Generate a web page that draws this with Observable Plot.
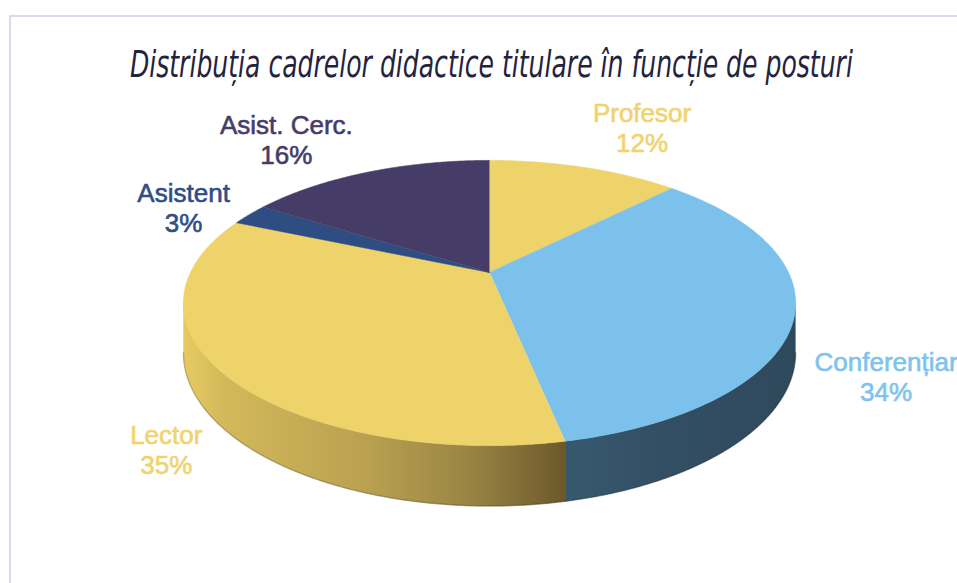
<!DOCTYPE html>
<html><head><meta charset="utf-8">
<script src="https://cdn.jsdelivr.net/npm/d3@7"></script>
<script src="https://cdn.jsdelivr.net/npm/@observablehq/plot@0.6"></script>
<style>
html,body{margin:0;padding:0;background:#fff;}
#wrap{position:relative;width:957px;height:583px;overflow:hidden;background:#fff;}
#frame{position:absolute;left:9px;top:15px;right:-5px;bottom:-5px;border-left:2px solid #DCD9EF;border-top:2px solid #DCD9EF;z-index:2;pointer-events:none;}
#title{position:absolute;left:-509px;top:45px;width:2000px;text-align:center;z-index:3;white-space:nowrap;}
#title span{display:inline-block;font-family:"Liberation Sans Narrow","DejaVu Sans Condensed",sans-serif;font-style:italic;font-size:38px;line-height:38px;color:#25223E;transform-origin:50% 50%;}
#chart{position:absolute;left:0;top:0;z-index:1;}
</style></head><body>
<div id="wrap"><div id="chart"></div><div id="frame"></div><div id="title"><span id="tt">Distribuția cadrelor didactice titulare în funcție de posturi</span></div></div>
<script>
// ---- data (shares read from the slice boundaries; labels as printed) ----
const categories = ["Profesor", "Conferențiar", "Lector", "Asistent", "Asist. Cerc."];
const shares = [12.4, 34.4, 34.7, 2.5, 16.0];
const percentLabels = ["12%", "34%", "35%", "3%", "16%"];
// ---- styles ----
const topColors = ["#EED26A", "#7CC1EC", "#EED26A", "#2E4D82", "#463C68"];
const wallFills = ["#9E8A45", "url(#wallConf)", "url(#wallLector)", "#1F3458", "#2F2848"];
const rimColors = ["#FFF3A0", "#3D6E92", "#FFF3A0", "#4A6CA8", "#6A5C92"];
const labelColors = ["#F0D36E", "#7EC3ED", "#F0D36E", "#2E4E84", "#463C6A"];

// ---- 3D projection (perspective tilted disk) ----
const P = 0.214, A = 0.455, D = 0.159, S = 299, CX = 489, CY = 272;
const rad = d => d * Math.PI / 180;
function proj(theta, r, h) {
  const X = r * Math.sin(theta), Z = -r * Math.cos(theta);
  const w = 1 - P * Z;
  return {x: X / w, y: (A * Z + D * h) / w};
}
function arc(t0, t1, r, h) {
  const n = Math.max(2, Math.ceil(Math.abs(t1 - t0) / rad(0.5)));
  return d3.range(n + 1).map(i => proj(t0 + (t1 - t0) * i / n, r, h));
}

const total = d3.sum(shares);
let acc = 0;
const slices = categories.map((c, i) => {
  const s = acc / total * 2 * Math.PI; acc += shares[i];
  const e = acc / total * 2 * Math.PI;
  return {i, name: c, start: s, end: e};
});

const visA = Math.acos(-P), visB = 2 * Math.PI - visA;
const marks = [];

// drop shadow
marks.push(Plot.line(arc(0, 2 * Math.PI, 1.015, 1.25), {x: "x", y: "y", fill: "#000", fillOpacity: 0.42, stroke: "none", ariaLabel: "shadow"}));

// walls
for (const sl of slices) {
  const lo = Math.max(sl.start, visA), hi = Math.min(sl.end, visB);
  if (hi <= lo) continue;
  const pts = arc(lo, hi, 1, 0).concat(arc(hi, lo, 1, 1));
  marks.push(Plot.line(pts, {x: "x", y: "y", fill: wallFills[sl.i], stroke: wallFills[sl.i], strokeWidth: 0.5}));
  marks.push(Plot.line(arc(lo, hi, 1, 1), {x: "x", y: "y", stroke: "#000", strokeOpacity: 0.2, strokeWidth: 1.5}));
}

// top faces
for (const sl of slices) {
  const pts = [proj(0, 0, 0)].concat(arc(sl.start, sl.end, 1, 0));
  marks.push(Plot.line(pts, {x: "x", y: "y", fill: topColors[sl.i], stroke: topColors[sl.i], strokeWidth: 0.6}));
}

// rim bevel
for (const sl of slices) {
  const lo = Math.max(sl.start, visA - rad(10)), hi = Math.min(sl.end, rad(300));
  if (hi <= lo) continue;
  const dark = sl.i === 1;
  marks.push(Plot.line(arc(lo, hi, dark ? 0.975 : 0.982, 0), {x: "x", y: "y", stroke: rimColors[sl.i], strokeWidth: dark ? 6 : 4, strokeOpacity: dark ? 0.8 : 1, ariaLabel: dark ? "rimdark" : "rimlight"}));
}

// labels
const ctx = document.createElement("canvas").getContext("2d");
ctx.font = "26px 'Liberation Sans'";
const labels = slices.map(sl => {
  const mid = (sl.start + sl.end) / 2;
  const Zm = -Math.cos(mid);
  const t = proj(mid, 1, 0);
  const a = Zm > 0 ? proj(mid, 1, 1) : t;
  const tx = t.x * S, ty = t.y * S, ax = a.x * S, ay = a.y * S;
  const len = Math.hypot(tx, ty), ux = tx / len, uy = ty / len;
  const k = 1 / Math.max(Math.abs(ux), Math.abs(uy));
  const hw = Math.max(ctx.measureText(sl.name).width, ctx.measureText(percentLabels[sl.i]).width) / 2;
  const hh = 30, gap = 20;
  const lx = ax + gap * ux + hw * ux * k, ly = ay + gap * uy + hh * uy * k;
  return {x: lx / S, y: ly / S, text: sl.name + "\n" + percentLabels[sl.i], color: labelColors[sl.i]};
});
marks.push(Plot.text(labels, {x: "x", y: "y", dy: 5, text: "text", fill: "color", stroke: "color", strokeWidth: 0.6, fontSize: 26, fontFamily: "'Liberation Sans', Arial, sans-serif", lineHeight: 1.15, textAnchor: "middle", lineAnchor: "middle"}));

const svg = Plot.plot({
  width: 957, height: 583, margin: 0,
  style: {background: "transparent", overflow: "visible"},
  x: {domain: [-1, 1], range: [CX - S, CX + S], axis: null},
  y: {domain: [-1, 1], range: [CY - S, CY + S], axis: null},
  color: {type: "identity"},
  marks
});

const defs = d3.select(svg).insert("defs", ":first-child");
function grad(id, stops) {
  const g = defs.append("linearGradient").attr("id", id).attr("x1", 0).attr("x2", 1).attr("y1", 0).attr("y2", 0);
  for (const [o, c] of stops) g.append("stop").attr("offset", o).attr("stop-color", c);
}
grad("wallLector", [[0, "#E6CB63"], [0.1, "#D4B95B"], [0.49, "#B8A04F"], [0.75, "#9A8444"], [1, "#6B592B"]]);
grad("wallConf", [[0, "#37596F"], [0.4, "#334F64"], [1, "#2F495C"]]);
function blur(id, sd) {
  defs.append("filter").attr("id", id).attr("x", "-20%").attr("y", "-20%").attr("width", "140%").attr("height", "140%")
    .append("feGaussianBlur").attr("stdDeviation", sd);
}
blur("blurS", 7); blur("blurL", 1.2); blur("blurD", 2.5);
d3.select(svg).selectAll('g[aria-label="shadow"]').attr("filter", "url(#blurS)");
d3.select(svg).selectAll('g[aria-label="rimlight"]').attr("filter", "url(#blurL)");
d3.select(svg).selectAll('g[aria-label="rimdark"]').attr("filter", "url(#blurD)");

document.getElementById("chart").appendChild(svg);

const tt = document.getElementById("tt");
const w = tt.getBoundingClientRect().width;
tt.style.transform = `scaleX(${723 / w})`;
</script>
</body></html>
